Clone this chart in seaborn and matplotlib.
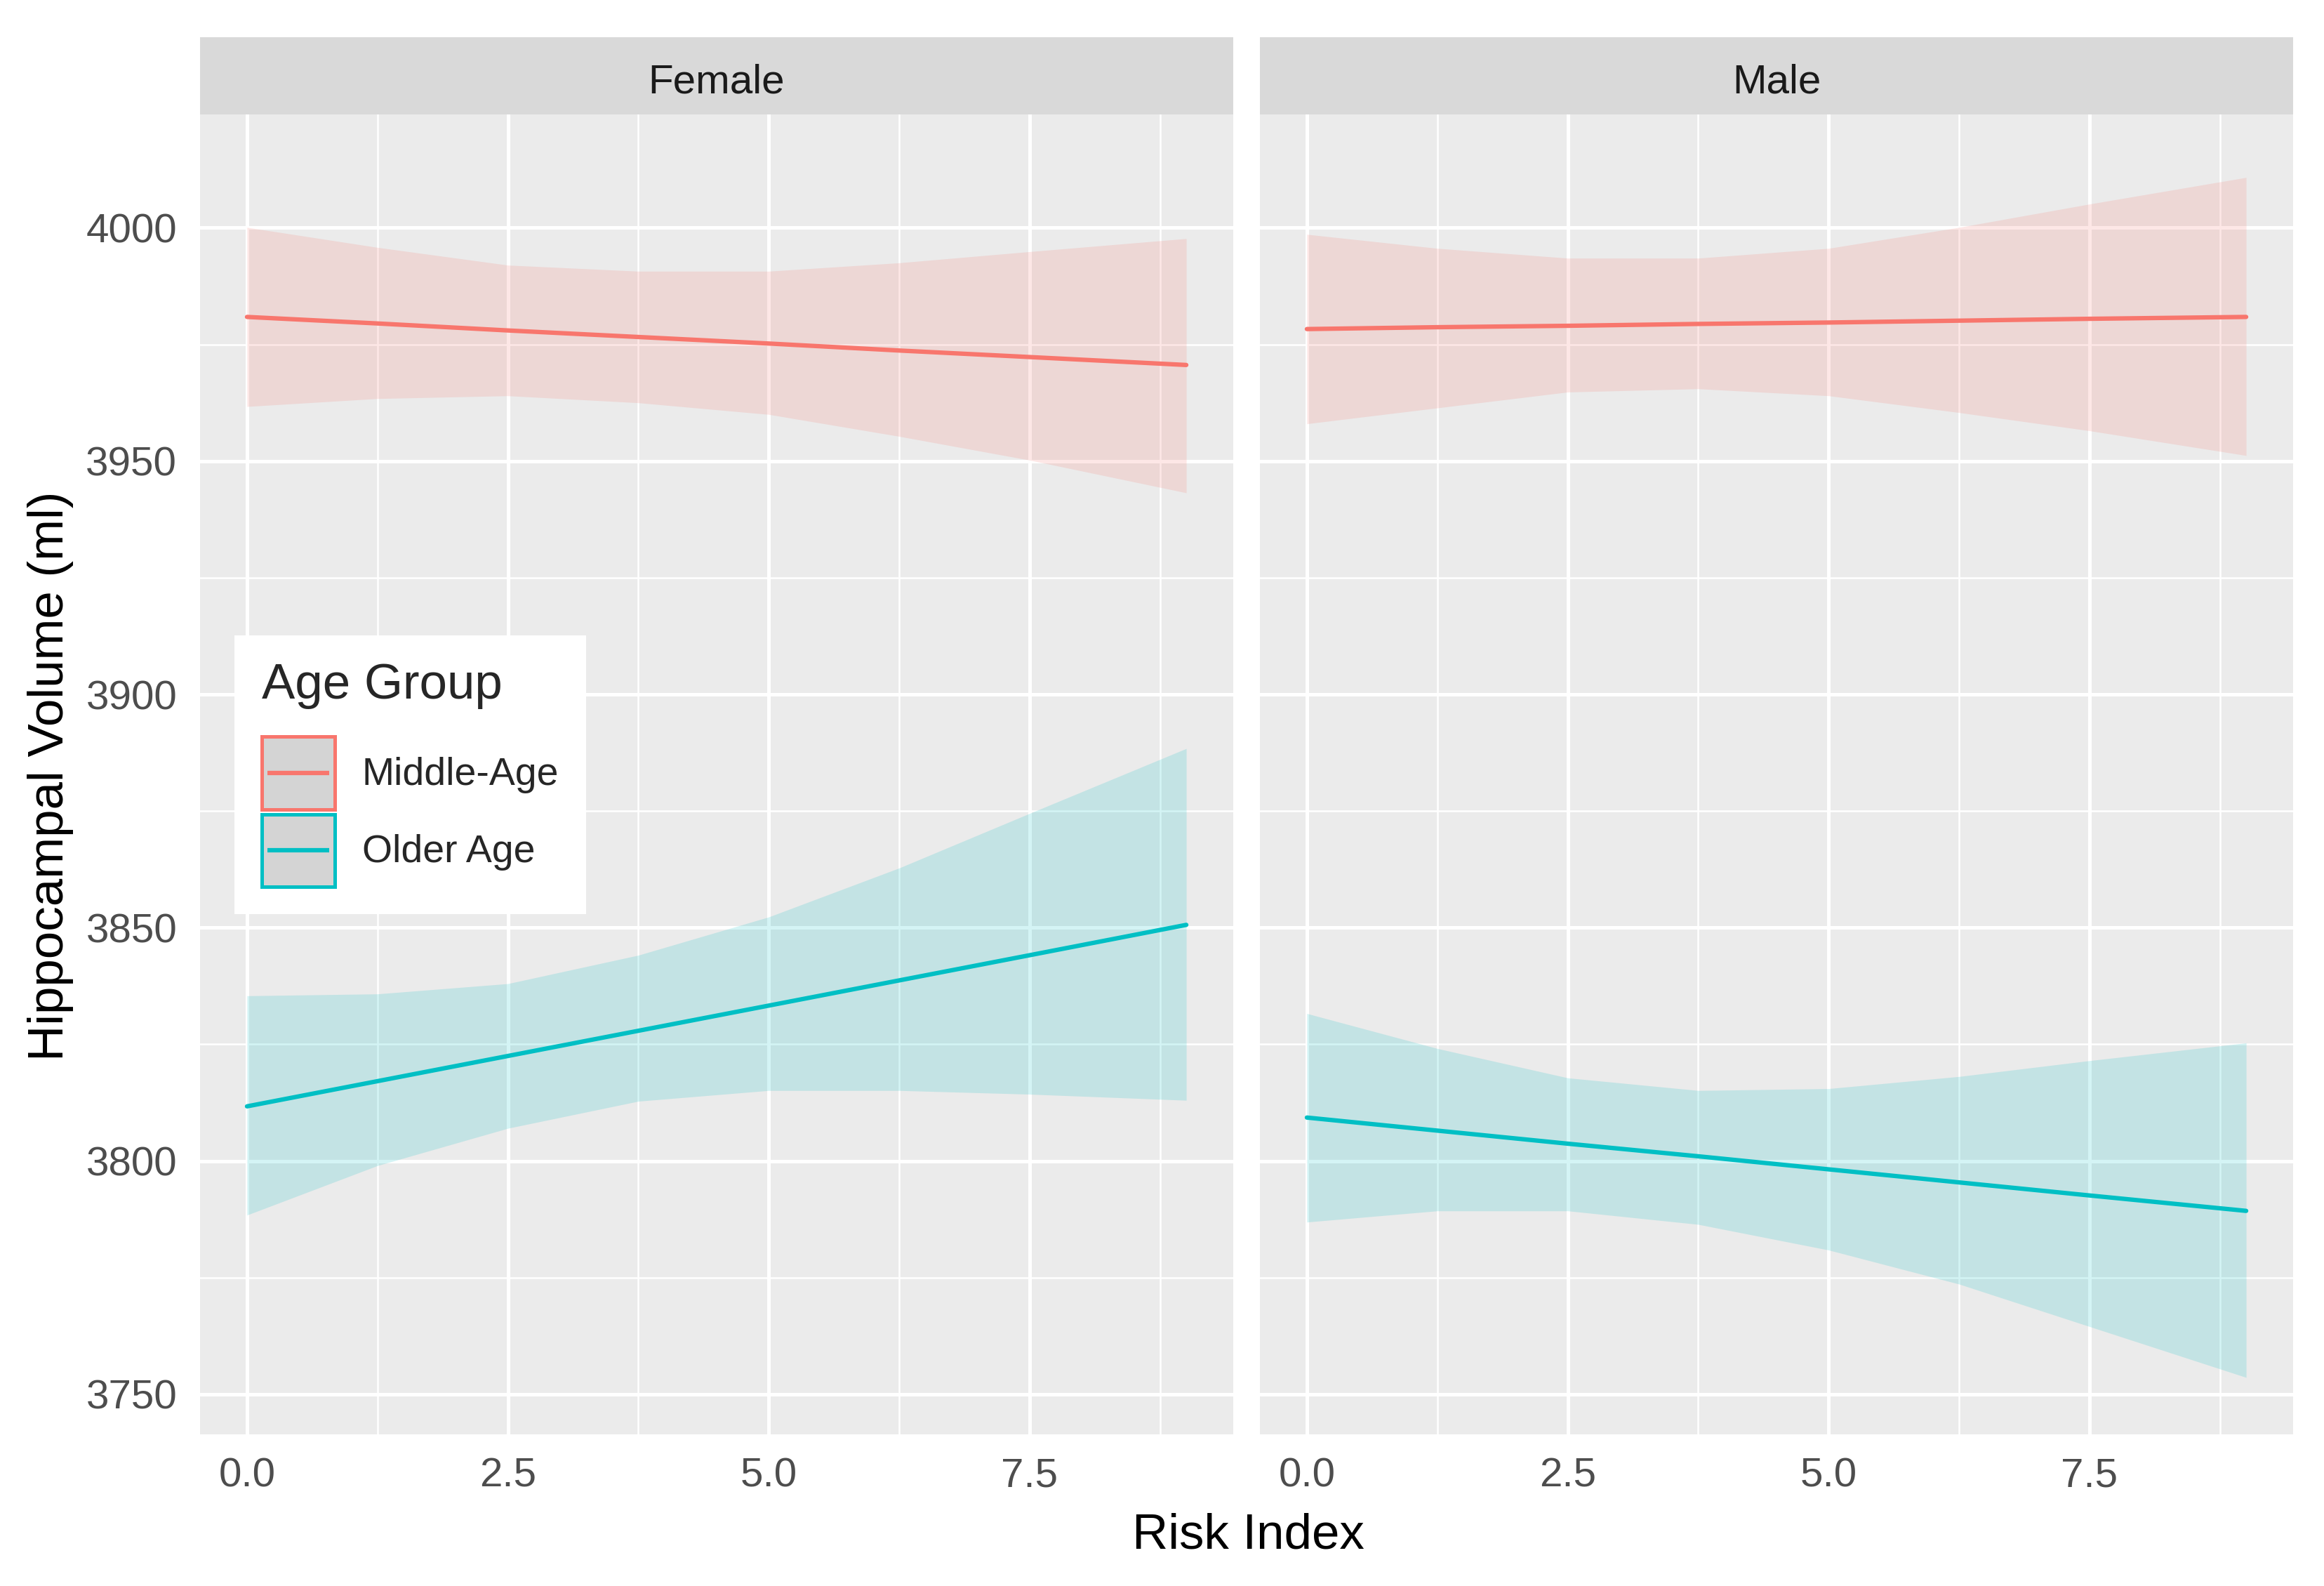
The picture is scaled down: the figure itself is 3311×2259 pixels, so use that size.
import numpy as np
import pandas as pd
import matplotlib
matplotlib.use("Agg")
import matplotlib.pyplot as plt
import seaborn as sns
from matplotlib.patches import Rectangle
from matplotlib.lines import Line2D
from matplotlib.legend_handler import HandlerBase
from matplotlib.ticker import FixedLocator

# ---------------- data ----------------
panels = ["Female", "Male"]
groups = ["Middle-Age", "Older Age"]
risk_x = [0.0, 1.25, 2.5, 3.75, 5.0, 6.25, 7.5, 9.0]

female_mid_fit = [3980.9, 3979.5, 3978.0, 3976.6, 3975.2, 3973.7, 3972.3, 3970.6]
female_mid_lo = [3961.7, 3963.4, 3964.0, 3962.5, 3960.0, 3955.3, 3950.2, 3943.2]
female_mid_hi = [4000.1, 3995.8, 3992.0, 3990.7, 3990.7, 3992.5, 3994.9, 3997.7]

female_old_fit = [3811.7, 3817.1, 3822.5, 3827.9, 3833.3, 3838.7, 3844.1, 3850.6]
female_old_lo = [3788.4, 3799.0, 3807.0, 3812.8, 3815.1, 3815.1, 3814.3, 3813.0]
female_old_hi = [3835.4, 3835.8, 3838.0, 3844.1, 3852.3, 3862.8, 3874.5, 3888.4]

male_mid_fit = [3978.3, 3978.7, 3979.0, 3979.4, 3979.7, 3980.1, 3980.5, 3980.9]
male_mid_lo = [3958.0, 3961.4, 3964.8, 3965.5, 3964.0, 3960.4, 3956.5, 3951.2]
male_mid_hi = [3998.6, 3995.6, 3993.5, 3993.5, 3995.6, 4000.1, 4005.1, 4010.8]

male_old_fit = [3809.3, 3806.5, 3803.7, 3801.0, 3798.2, 3795.4, 3792.6, 3789.3]
male_old_lo = [3786.9, 3789.3, 3789.3, 3786.4, 3780.9, 3773.6, 3764.5, 3753.6]
male_old_hi = [3831.6, 3824.1, 3817.8, 3815.1, 3815.5, 3818.1, 3821.5, 3825.3]

x_ticks = [0.0, 2.5, 5.0, 7.5]
x_tick_labels = ["0.0", "2.5", "5.0", "7.5"]
y_ticks = [3750, 3800, 3850, 3900, 3950, 4000]
y_tick_labels = ["3750", "3800", "3850", "3900", "3950", "4000"]

x_label = "Risk Index"
y_label = "Hippocampal Volume (ml)"
legend_title = "Age Group"

# ---------------- build long table ----------------
rows = []
series = {
    ("Female", "Middle-Age"): (female_mid_fit, female_mid_lo, female_mid_hi),
    ("Female", "Older Age"): (female_old_fit, female_old_lo, female_old_hi),
    ("Male", "Middle-Age"): (male_mid_fit, male_mid_lo, male_mid_hi),
    ("Male", "Older Age"): (male_old_fit, male_old_lo, male_old_hi),
}
for (sex, grp), (fit, lo, hi) in series.items():
    for xv, f, l, h in zip(risk_x, fit, lo, hi):
        rows.append(dict(Sex=sex, Group=grp, Risk=xv, Fit=f, Lo=l, Hi=h))
df = pd.DataFrame(rows)

# ---------------- style ----------------
sns.set_theme(style="darkgrid")
plt.rcParams["font.family"] = ["Liberation Sans", "DejaVu Sans"]

palette = {"Middle-Age": "#F8766D", "Older Age": "#00BFC4"}

W, H = 3311, 2259
DPI = 300
fig = plt.figure(figsize=(W / DPI, H / DPI), dpi=DPI, facecolor="white")

def fx(px):
    return px / W

def fy(py):
    return 1 - py / H

panel_lefts = [285, 1795]
panel_right_w = 1472
panel_top, panel_bot = 163, 2043
strip_top = 53

axes = []
for i, sex in enumerate(panels):
    l = panel_lefts[i]
    ax = fig.add_axes([fx(l), fy(panel_bot), fx(panel_right_w), (panel_bot - panel_top) / H])
    ax.set_facecolor("#EBEBEB")
    sub = df[df.Sex == sex]
    for grp in groups:
        g = sub[sub.Group == grp]
        ax.fill_between(g.Risk, g.Lo, g.Hi, color=palette[grp], alpha=0.17,
                        linewidth=0, zorder=2)
    sns.lineplot(data=sub, x="Risk", y="Fit", hue="Group", palette=palette,
                 hue_order=groups, ax=ax, linewidth=1.5, legend=False, zorder=3,
                 estimator=None, sort=True)
    ax.set_xlim(-0.45, 9.45)
    ax.set_ylim(3741.4, 4024.3)
    ax.xaxis.set_major_locator(FixedLocator(x_ticks))
    ax.set_xticklabels(x_tick_labels)
    ax.xaxis.set_minor_locator(FixedLocator([1.25, 3.75, 6.25, 8.75]))
    ax.yaxis.set_major_locator(FixedLocator(y_ticks))
    ax.yaxis.set_minor_locator(FixedLocator([3775, 3825, 3875, 3925, 3975]))
    if i == 0:
        ax.set_yticklabels(y_tick_labels)
    else:
        ax.set_yticklabels([])
    ax.grid(which="major", color="white", linewidth=1.2)
    ax.grid(which="minor", color="white", linewidth=0.6)
    ax.set_axisbelow(True)
    for sp in ax.spines.values():
        sp.set_visible(False)
    ax.tick_params(axis="both", which="major", length=4.4, width=0.7, color="#333333",
                   labelsize=14, labelcolor="#4D4D4D", pad=3.5)
    ax.tick_params(axis="both", which="minor", length=0)
    if i == 1:
        ax.tick_params(axis="y", which="major", length=0)
    ax.set_xlabel("")
    ax.set_ylabel("")
    axes.append(ax)

    # strip
    sax = fig.add_axes([fx(l), fy(panel_top), fx(panel_right_w), (panel_top - strip_top) / H])
    sax.set_facecolor("#D9D9D9")
    sax.set_xticks([])
    sax.set_yticks([])
    for sp in sax.spines.values():
        sp.set_visible(False)
    sax.grid(False)
    sax.text(0.5, 0.47, sex, ha="center", va="center_baseline", fontsize=14, color="#1A1A1A",
             transform=sax.transAxes)

fig.text(fx(1778), fy(2187), x_label, ha="center", va="center", fontsize=17, color="black")
fig.text(fx(72), fy(1105), y_label, ha="center", va="center", rotation=90, fontsize=17,
         color="black")


class KeyHandler(HandlerBase):
    """ggplot-like key: grey square with coloured outline and a centred line."""

    def create_artists(self, legend, orig_handle, xdescent, ydescent, width, height,
                       fontsize, trans):
        col = orig_handle.get_color()
        x0, y0 = -xdescent, -ydescent
        rect = Rectangle((x0, y0), width, height, facecolor="#D4D4D4",
                         edgecolor=col, linewidth=1.2, transform=trans)
        yc = y0 + height / 2.0
        line = Line2D([x0 + 0.08 * width, x0 + 0.92 * width], [yc, yc], color=col,
                      linewidth=1.5, transform=trans, solid_capstyle="butt")
        return [rect, line]


handles = [Line2D([0], [0], color=palette[g]) for g in groups]
leg = fig.legend(handles, groups, title=legend_title,
                 handler_map={Line2D: KeyHandler()},
                 loc="upper left", bbox_to_anchor=(fx(334), fy(905)),
                 bbox_transform=fig.transFigure, borderaxespad=0,
                 frameon=True, fancybox=False, framealpha=1, facecolor="white",
                 edgecolor="white", fontsize=13.3, title_fontsize=17,
                 handlelength=1.88, handleheight=2.5, labelspacing=0.12,
                 handletextpad=0.7, borderpad=0.7)
leg._legend_box.align = "left"
leg._legend_box.sep = 9.5
leg.get_frame().set_linewidth(0)

fig.savefig("out.png", dpi=DPI, facecolor="white")
